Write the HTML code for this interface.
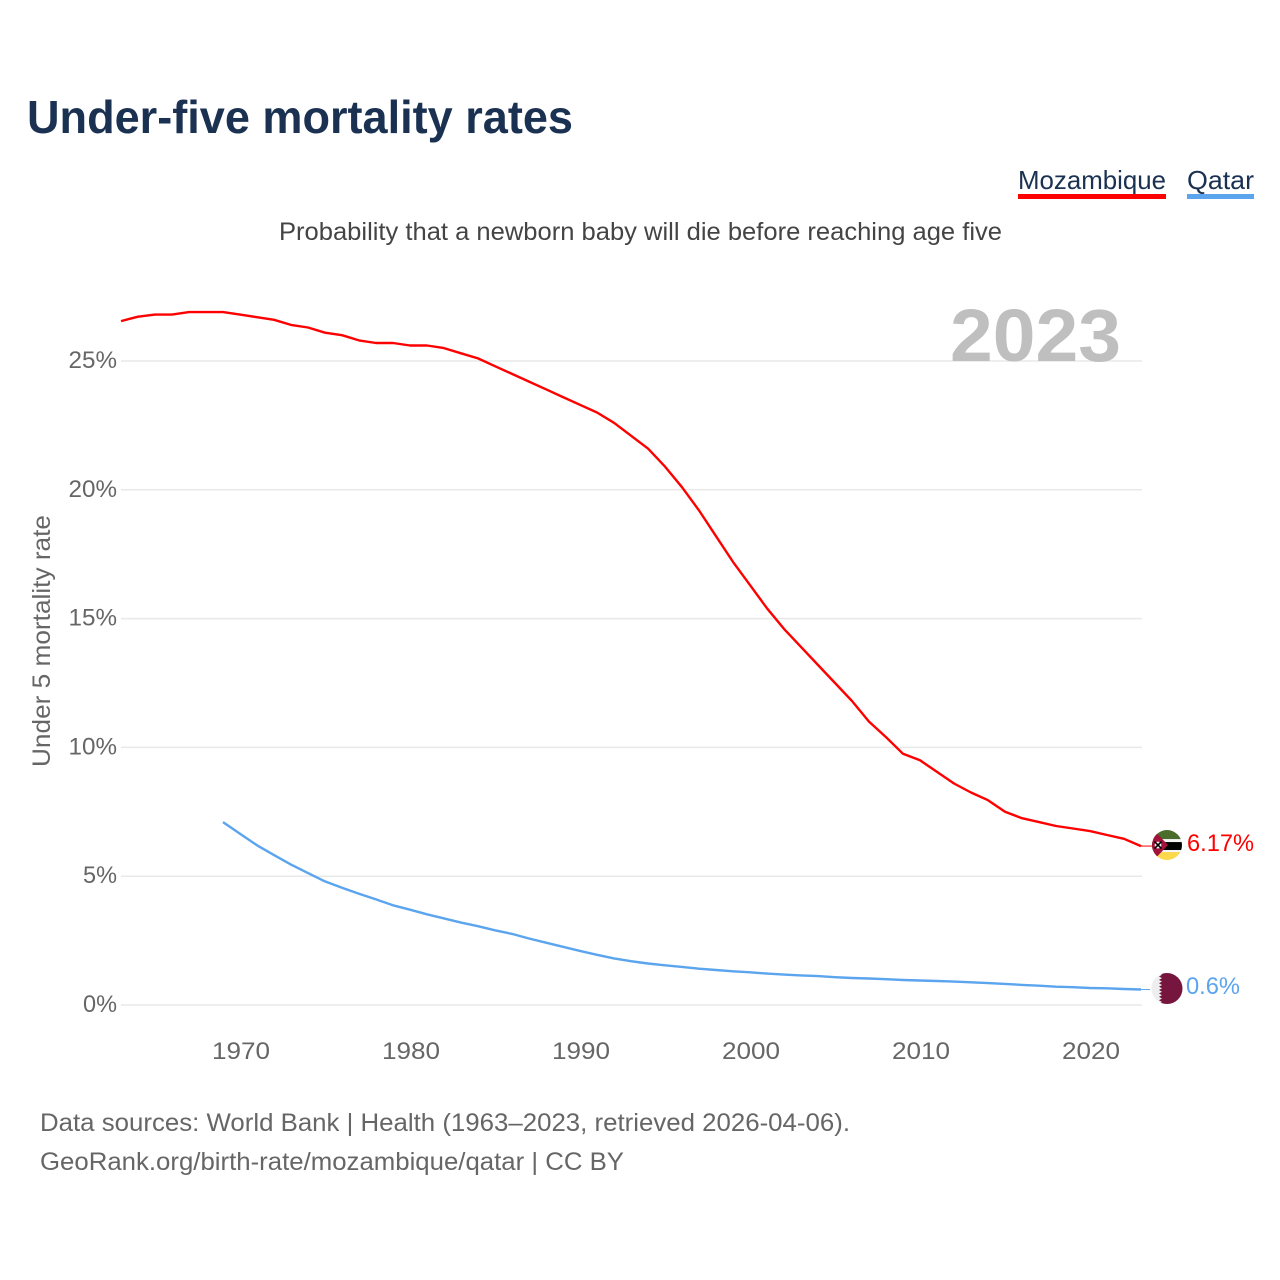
<!DOCTYPE html>
<html lang="en">
<head>
<meta charset="utf-8">
<title>Under-five mortality rates</title>
<style>
html,body{margin:0;padding:0;background:#fff;width:1280px;height:1280px;overflow:hidden}
svg{display:block}
text{font-family:"Liberation Sans",sans-serif}
</style>
</head>
<body>
<svg id="chart" width="1280" height="1280" viewBox="0 0 1280 1280" xmlns="http://www.w3.org/2000/svg">
<defs>
<clipPath id="flag-clip-moz"><circle id="moz-clip-circle" cx="1167" cy="845" r="15"/></clipPath>
<clipPath id="flag-clip-qat"><circle id="qat-clip-circle" cx="1167" cy="988.5" r="15.5"/></clipPath>
</defs>
<text x="27" y="133" font-size="46" font-weight="700" fill="#1a3152" textLength="546" lengthAdjust="spacingAndGlyphs">Under-five mortality rates</text>
<g>
<text x="1018" y="189" font-size="26" fill="#1a3152" textLength="148" lengthAdjust="spacingAndGlyphs">Mozambique</text>
<rect x="1018" y="194" width="148" height="5" fill="#ff0000"/>
</g>
<g>
<text x="1187" y="189" font-size="26" fill="#1a3152" textLength="67" lengthAdjust="spacingAndGlyphs">Qatar</text>
<rect x="1187" y="194" width="67" height="5" fill="#5ba4ee"/>
</g>
<text x="279" y="240" font-size="25" fill="#444" textLength="723" lengthAdjust="spacingAndGlyphs">Probability that a newborn baby will die before reaching age five</text>
<g id="grid"></g>
<text x="950" y="361" font-size="74" font-weight="700" fill="#bfbfbf" textLength="171" lengthAdjust="spacingAndGlyphs">2023</text>
<g id="yticks"></g>
<g id="xticks"></g>
<text transform="translate(50,767) rotate(-90)" x="0" y="0" font-size="25" fill="#666" textLength="252" lengthAdjust="spacingAndGlyphs">Under 5 mortality rate</text>
<g id="series"></g>
<g id="flag-moz" clip-path="url(#flag-clip-moz)">
<rect x="1150" y="828" width="34" height="12" fill="#4a6d2c"/>
<rect x="1150" y="839" width="34" height="3" fill="#f4f4f4"/>
<rect x="1150" y="842" width="34" height="8" fill="#000"/>
<rect x="1150" y="850" width="34" height="3" fill="#f4f4f4"/>
<rect x="1150" y="852" width="34" height="10" fill="#fcd84c"/>
<path d="M1150 826 L1168 845 L1150 864 Z" fill="#a3123a"/>
<circle cx="1158" cy="845" r="3.4" fill="#f4f4f4"/>
<path d="M1154.5 841.5 L1161.5 848.5 M1161.5 841.5 L1154.5 848.5" stroke="#000" stroke-width="1.6"/>
</g>
<g id="flag-qat" clip-path="url(#flag-clip-qat)">
<rect x="1150" y="972" width="34" height="34" fill="#eeeeee"/>
<path d="M1190 970 L1159 970 L1159 973 L1162 974.7 L1159 976.4 L1162 978.1 L1159 979.8 L1162 981.5 L1159 983.2 L1162 984.9 L1159 986.6 L1162 988.3 L1159 990 L1162 991.7 L1159 993.4 L1162 995.1 L1159 996.8 L1162 998.5 L1159 1000.2 L1162 1001.9 L1159 1003.6 L1159 1008 L1190 1008 Z" fill="#76163f"/>
</g>
<text x="40" y="1131" font-size="25" fill="#666" textLength="810" lengthAdjust="spacingAndGlyphs">Data sources: World Bank | Health (1963–2023, retrieved 2026-04-06).</text>
<text x="40" y="1170" font-size="25" fill="#666" textLength="584" lengthAdjust="spacingAndGlyphs">GeoRank.org/birth-rate/mozambique/qatar | CC BY</text>
</svg>
<script>
const mozYears = [1963,1964,1965,1966,1967,1968,1969,1970,1971,1972,1973,1974,1975,1976,1977,1978,1979,1980,1981,1982,1983,1984,1985,1986,1987,1988,1989,1990,1991,1992,1993,1994,1995,1996,1997,1998,1999,2000,2001,2002,2003,2004,2005,2006,2007,2008,2009,2010,2011,2012,2013,2014,2015,2016,2017,2018,2019,2020,2021,2022,2023];
const mozValues = [26.55,26.72,26.8,26.8,26.9,26.9,26.9,26.8,26.7,26.6,26.4,26.3,26.1,26.0,25.8,25.7,25.7,25.6,25.6,25.5,25.3,25.1,24.8,24.5,24.2,23.9,23.6,23.3,23.0,22.6,22.1,21.6,20.9,20.1,19.2,18.2,17.2,16.3,15.4,14.6,13.9,13.2,12.5,11.8,11.0,10.4,9.75,9.5,9.05,8.6,8.25,7.95,7.5,7.25,7.1,6.95,6.85,6.75,6.6,6.45,6.17];
const qatYears = [1969,1970,1971,1972,1973,1974,1975,1976,1977,1978,1979,1980,1981,1982,1983,1984,1985,1986,1987,1988,1989,1990,1991,1992,1993,1994,1995,1996,1997,1998,1999,2000,2001,2002,2003,2004,2005,2006,2007,2008,2009,2010,2011,2012,2013,2014,2015,2016,2017,2018,2019,2020,2021,2022,2023];
const qatValues = [7.1,6.65,6.2,5.82,5.45,5.12,4.8,4.55,4.32,4.1,3.87,3.7,3.52,3.36,3.2,3.06,2.9,2.76,2.58,2.42,2.26,2.1,1.95,1.81,1.7,1.61,1.54,1.48,1.41,1.36,1.31,1.27,1.22,1.18,1.15,1.12,1.08,1.05,1.03,1.0,0.97,0.95,0.93,0.91,0.88,0.85,0.82,0.78,0.75,0.71,0.69,0.66,0.65,0.62,0.6];
const yTickValues = [0,5,10,15,20,25];
const xTickValues = [1970,1980,1990,2000,2010,2020];
const mozLabel = '6.17%';
const qatLabel = '0.6%';

const NS = 'http://www.w3.org/2000/svg';
const xAxis = function (year) { return 121 + (year - 1963) * 17; };
const yAxis = function (pct) { return 1005 - pct * 25.76; };

function make(tag, parent) {
  const el = document.createElementNS(NS, tag);
  parent.appendChild(el);
  return el;
}
function set(el, attrs) {
  Object.keys(attrs).forEach(function (k) { el.setAttribute(k, attrs[k]); });
}
function labelWidth(str) {
  const digits = str.replace('%', '').replace('.', '').length;
  return digits * 14.5 + (str.indexOf('%') >= 0 ? 19.5 : 0) + (str.indexOf('.') >= 0 ? 6.5 : 0);
}

const grid = document.getElementById('grid');
const yticks = document.getElementById('yticks');
yTickValues.forEach(function (v) {
  const line = make('line', grid);
  
  
  set(line, {x1: xAxis(1963), x2: xAxis(2023) + 1, y1: yAxis(v), y2: yAxis(v), stroke: '#e9e9e9', 'stroke-width': 1.5});
  const t = make('text', yticks);
  
  
  const s = v + '%';
  const w = labelWidth(s);
  set(t, {x: 117 - w, y: yAxis(v) + 7, 'font-size': 24, fill: '#666', textLength: w, lengthAdjust: 'spacingAndGlyphs'});
  t.textContent = s;
});

const xticks = document.getElementById('xticks');
xTickValues.forEach(function (v) {
  const t = make('text', xticks);
  
  
  const s = String(v);
  const w = labelWidth(s);
  set(t, {x: xAxis(v) + 1 - w / 2, y: 1059, 'font-size': 24, fill: '#666', textLength: w, lengthAdjust: 'spacingAndGlyphs'});
  t.textContent = s;
});

function pathFrom(years, values) {
  return years.map(function (y, i) {
    return (i ? 'L' : 'M') + xAxis(y).toFixed(1) + ' ' + yAxis(values[i]).toFixed(1);
  }).join(' ');
}

const series = document.getElementById('series');

const mozLine = make('path', series);


set(mozLine, {d: pathFrom(mozYears, mozValues), fill: 'none', stroke: '#ff0000', 'stroke-width': 2.4, 'stroke-linejoin': 'round'});

const qatLine = make('path', series);


set(qatLine, {d: pathFrom(qatYears, qatValues), fill: 'none', stroke: '#5ba4ee', 'stroke-width': 2.4, 'stroke-linejoin': 'round'});

const mozLast = yAxis(mozValues[mozValues.length - 1]);
const qatLast = yAxis(qatValues[qatValues.length - 1]);

const mozConn = make('line', series);


set(mozConn, {x1: xAxis(2023), x2: 1152, y1: mozLast, y2: mozLast, stroke: '#ff0000', 'stroke-width': 1});

const qatConn = make('line', series);


set(qatConn, {x1: xAxis(2023), x2: 1150, y1: qatLast, y2: qatLast, stroke: '#5ba4ee', 'stroke-width': 1});

const mozEnd = make('text', series);


set(mozEnd, {x: 1187, y: mozLast + 5, 'font-size': 24, fill: '#ff0000', textLength: 67, lengthAdjust: 'spacingAndGlyphs'});
mozEnd.textContent = mozLabel;

const qatEnd = make('text', series);


set(qatEnd, {x: 1186, y: qatLast + 4.5, 'font-size': 24, fill: '#5ba4ee', textLength: 54, lengthAdjust: 'spacingAndGlyphs'});
qatEnd.textContent = qatLabel;

document.getElementById('flag-moz').setAttribute('transform', 'translate(0,' + (mozLast - 846) + ')');
document.getElementById('flag-qat').setAttribute('transform', 'translate(0,' + (qatLast - 989.5) + ')');
</script>
</body>
</html>
